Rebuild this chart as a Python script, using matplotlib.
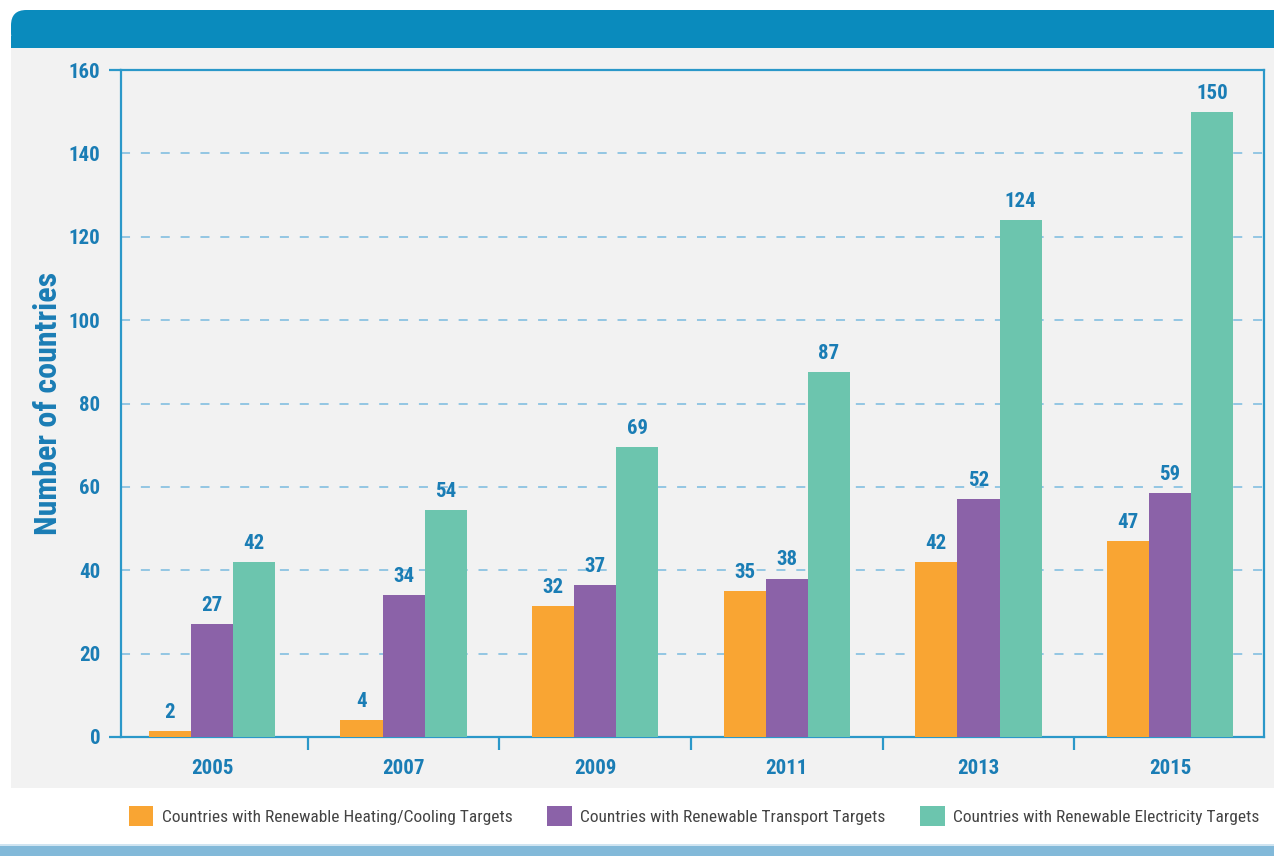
import matplotlib
matplotlib.use("Agg")
import matplotlib.pyplot as plt
from matplotlib.patches import Rectangle, FancyBboxPatch
from matplotlib.ticker import FixedLocator
from matplotlib import font_manager
import numpy as np

available = {f.name for f in font_manager.fontManager.ttflist}
pref = ['Liberation Sans Narrow', 'DejaVu Sans Condensed', 'Roboto Condensed',
        'Open Sans Condensed', 'Roboto', 'DejaVu Sans']
chosen = [f for f in pref if f in available]
FONT = chosen[0] if chosen else 'DejaVu Sans'
plt.rcParams['font.family'] = [FONT, 'DejaVu Sans']
narrow = FONT in ('Liberation Sans Narrow', 'DejaVu Sans Condensed', 'Roboto Condensed',
                  'Open Sans Condensed')

years = ["2005", "2007", "2009", "2011", "2013", "2015"]
series_names = ["Countries with Renewable Heating/Cooling Targets",
                "Countries with Renewable Transport Targets",
                "Countries with Renewable Electricity Targets"]
heating = [1.5, 4, 31.5, 35, 42, 47]
transport = [27, 34, 36.5, 38, 57, 58.5]
electricity = [42, 54.5, 69.5, 87.5, 124, 150]
heating_labels = ["2", "4", "32", "35", "42", "47"]
transport_labels = ["27", "34", "37", "38", "52", "59"]
electricity_labels = ["42", "54", "69", "87", "124", "150"]
colors = ["#f9a533", "#8b62a8", "#6cc5ae"]
y_ticks = [0, 20, 40, 60, 80, 100, 120, 140, 160]

BLUE_TXT = "#1a7db5"
AX_BLUE = "#2b98c9"

fig = plt.figure(figsize=(12.74, 8.56), dpi=100)
fig.patch.set_facecolor("white")
H = 856.0
W = 1274.0
# gray panel
fig.patches.append(Rectangle((11 / W, 1 - 788 / H), 1 - 11 / W, (788 - 48) / H,
                             transform=fig.transFigure, facecolor="#f2f2f2",
                             edgecolor="none", zorder=-5))
# header bar with rounded top-left
fig.patches.append(FancyBboxPatch((11 / W, 1 - 48 / H), 1.1, (48 - 10) / H,
                                  boxstyle="round,pad=0,rounding_size=0.012",
                                  mutation_aspect=W / H,
                                  transform=fig.transFigure, facecolor="#0a8bbd",
                                  edgecolor="none", zorder=-5))
fig.patches.append(Rectangle((11 / W, 1 - 48 / H), 1, 12 / H,
                             transform=fig.transFigure, facecolor="#0a8bbd",
                             edgecolor="none", zorder=-5))
# bottom bar
fig.patches.append(Rectangle((0, 0), 1, 10 / H, transform=fig.transFigure,
                             facecolor="#82b9d9", edgecolor="none", zorder=-5))
fig.patches.append(Rectangle((0, 10 / H), 1, 2 / H, transform=fig.transFigure,
                             facecolor="#cfe4f1", edgecolor="none", zorder=-5))

ax = fig.add_axes([121 / W, 1 - 737 / H, (1264 - 121) / W, (737 - 70) / H])
ax.set_zorder(2)
ax.set_facecolor("#f2f2f2")

x = np.arange(len(years))
w = 0.22
data = [heating, transport, electricity]
labels = [heating_labels, transport_labels, electricity_labels]
vfs = 15 if narrow else 13.5
for i, (vals, labs, c, name) in enumerate(zip(data, labels, colors, series_names)):
    pos = x + (i - 1) * w
    ax.bar(pos, vals, width=w, color=c, label=name, zorder=3, edgecolor="none")
    for xp, v, t in zip(pos, vals, labs):
        ax.text(xp, v + 2.2, t, ha="center", va="bottom", color=BLUE_TXT,
                fontsize=vfs, fontweight="bold", zorder=4)

ax.set_xlim(-0.475, 5.49)
ax.set_ylim(0, 160)
ax.set_yticks(y_ticks)
ax.set_yticklabels([str(v) for v in y_ticks])
ax.yaxis.grid(True, linestyle=(0, (5, 6)), color="#8cc3e2", linewidth=1.3, zorder=1)
ax.set_axisbelow(True)

ax.set_xticks(x)
ax.set_xticklabels(years)
ax.xaxis.set_minor_locator(FixedLocator(x[:-1] + 0.5))
ax.tick_params(axis="x", which="major", length=0, pad=16, labelsize=vfs,
               labelcolor=BLUE_TXT)
ax.tick_params(axis="x", which="minor", length=9, width=1.6, color=AX_BLUE,
               direction="out")
ax.tick_params(axis="y", which="major", length=9, width=1.6, color=AX_BLUE,
               pad=6, labelsize=vfs, labelcolor=BLUE_TXT)
for lab in ax.get_xticklabels() + ax.get_yticklabels():
    lab.set_fontweight("bold")
yt = ax.yaxis.get_major_ticks()
for t in yt[1:-1]:
    t.tick1line.set_visible(False)

for s in ax.spines.values():
    s.set_color(AX_BLUE)
    s.set_linewidth(1.6)

ax.set_ylabel("Number of countries", color=BLUE_TXT, fontsize=23 if narrow else 19,
              fontweight="bold")
ax.yaxis.set_label_coords(-(121 - 63) / (1264 - 121), 0.5)

lfs = 12.5 if narrow else 10.5
leg = fig.legend(loc="center", bbox_to_anchor=(0.545, 0.047), ncol=3,
                 frameon=False, fontsize=lfs, handlelength=1.4, handleheight=1.4,
                 columnspacing=2.0, handletextpad=0.5)
for t in leg.get_texts():
    t.set_color("#444444")

fig.savefig("out.png", dpi=100, facecolor=fig.get_facecolor())
